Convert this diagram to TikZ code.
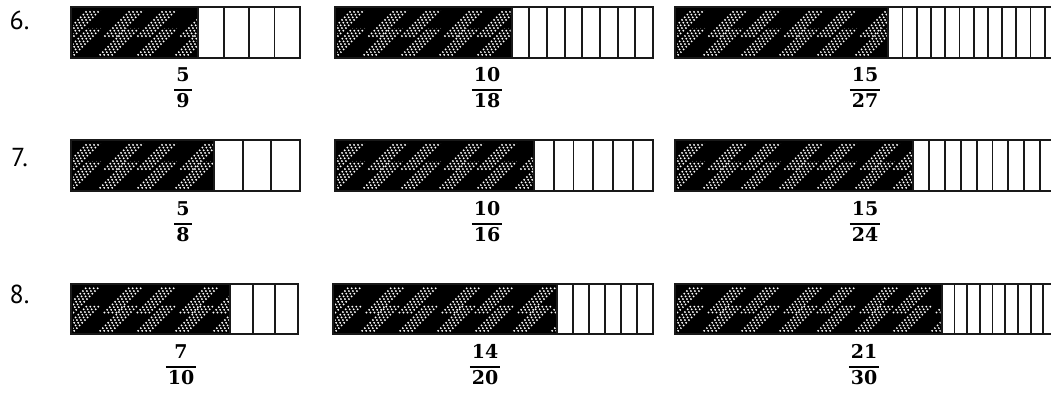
\documentclass[tikz,border=0pt]{standalone}
\usepackage{fontspec}
\newfontfamily\labelfont{PT Sans}
\newfontfamily\fracfont{DejaVu Serif}
\setlength\arrayrulewidth{2pt}
\tikzset{
  dotline/.style={white, line width=1.5pt, dash pattern=on 1.4pt off 2.4pt},
  cellrule/.style={draw=black!90, line width=1.8pt},
  numlab/.style={inner sep=0pt, font=\labelfont\fontsize{26}{30}\selectfont},
  fracsty/.style={inner sep=0pt, font=\fracfont\bfseries\fontsize{19}{24}\selectfont}
}
\newcommand\fbar[6]{%
  \pgfmathsetmacro\cw{(#2-#1)/#5}%
  \pgfmathsetmacro\xs{#1+#6*\cw}%
  \pgfmathsetmacro\hh{(#4-#3)}%
  \fill[black] (#1,#3) rectangle (\xs,#4);
  \begin{scope}
    \clip (#1+2,#3+3) rectangle (\xs-1,#4-3);
    \pgfmathtruncatemacro\nb{(\xs-#1+80)/38}%
    \foreach \m in {0,...,\nb}{%
      \pgfmathsetmacro\sh{mod(\m,2)==0 ? 19 : 24}%
      \foreach \i in {0,4,8,12}{%
        \pgfmathsetmacro\u{#1-50+38*\m+\i}%
        \draw[dotline] (\u,#4) -- ++(0.58*\hh,-0.58*\hh);
        \draw[dotline] (\u+0.42*\hh+\sh,#4-0.42*\hh) -- ++(0.58*\hh,-0.58*\hh);
      }}
  \end{scope}
  \draw[cellrule] (#1,#3) rectangle (#2,#4);
  \pgfmathtruncatemacro\kk{#6}%
  \pgfmathtruncatemacro\nn{#5-1}%
  \foreach \j in {\kk,...,\nn}{\draw[cellrule] (#1+\j*\cw,#3) -- (#1+\j*\cw,#4);}
}
\newcommand\fracnode[5]{\node[fracsty] (#1) at (#2,#3) {\begin{tabular}{@{\hspace{2pt}}c@{\hspace{2pt}}}#4\\\hline #5\end{tabular}};}
\begin{document}
\begin{tikzpicture}[x=1pt,y=-1pt]
\useasboundingbox (0,0) rectangle (1051,394);
\clip (0,0) rectangle (1051,394);
% row 6
\node[numlab] (l6) at (19.5,20.5) {6.};
\fbar{71}{300}{7}{58}{9}{5}
\fbar{335}{653}{7}{58}{18}{10}
\fbar{675}{1059}{7}{58}{27}{15}
\fracnode{f61}{183}{90}{5}{9}
\fracnode{f62}{487}{90}{10}{18}
\fracnode{f63}{865}{90}{15}{27}
% row 7
\node[numlab] (l7) at (19.5,157.5) {7.};
\fbar{71}{300}{140}{191}{8}{5}
\fbar{335}{653}{140}{191}{16}{10}
\fbar{675}{1056}{140}{191}{24}{15}
\fracnode{f71}{183}{224}{5}{8}
\fracnode{f72}{487}{224}{10}{16}
\fracnode{f73}{865}{224}{15}{24}
% row 8
\node[numlab] (l8) at (19.5,294) {8.};
\fbar{71}{298}{284}{334}{10}{7}
\fbar{333}{653}{284}{334}{20}{14}
\fbar{675}{1056}{284}{334}{30}{21}
\fracnode{f81}{181}{367}{7}{10}
\fracnode{f82}{485}{367}{14}{20}
\fracnode{f83}{864}{367}{21}{30}
\end{tikzpicture}
\end{document}
